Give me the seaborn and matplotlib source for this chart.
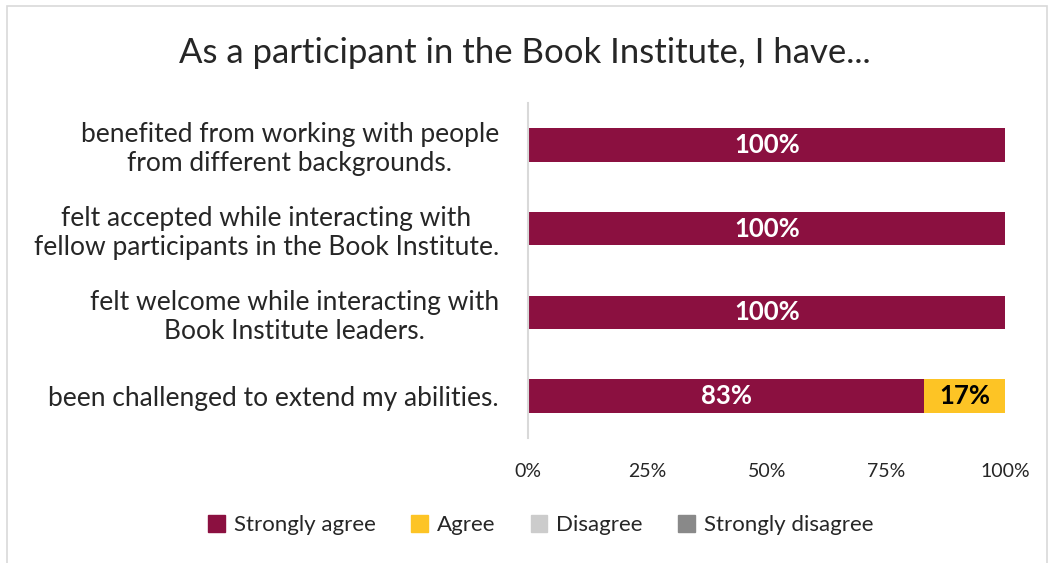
import matplotlib
matplotlib.use("Agg")
import matplotlib.pyplot as plt
import matplotlib.patches as mpatches
import seaborn as sns
import pandas as pd
import numpy as np

# Survey items (top to bottom) and response shares in percent
items = [
    "benefited from working with people\nfrom different backgrounds.",
    "felt accepted while interacting with\nfellow participants in the Book Institute.",
    "felt welcome while interacting with\nBook Institute leaders.",
    "been challenged to extend my abilities.",
]
strongly_agree = [100, 100, 100, 83]
agree = [0, 0, 0, 17]
disagree = [0, 0, 0, 0]
strongly_disagree = [0, 0, 0, 0]

responses = ["Strongly agree", "Agree", "Disagree", "Strongly disagree"]
colors = ["#8B1040", "#FDC425", "#CCCCCC", "#898989"]
label_colors = ["white", "black", "black", "white"]

sns.set_theme(style="white")
plt.rcParams["font.family"] = ["Lato", "DejaVu Sans"]

df = pd.DataFrame({
    "item": items,
    "Strongly agree": strongly_agree,
    "Agree": agree,
    "Disagree": disagree,
    "Strongly disagree": strongly_disagree,
})
cum = df[responses].cumsum(axis=1)

fig = plt.figure(figsize=(10.5, 5.63), dpi=100)
ax = fig.add_axes([0.503, 0.222, 0.4545, 0.595])

# draw cumulative totals back to front so the bars look stacked
for resp, col in reversed(list(zip(responses, colors))):
    sns.barplot(x=cum[resp], y=df["item"], color=col, orient="h",
                width=0.4, ax=ax, saturation=1, linewidth=0)

# segment labels
for i in range(len(items)):
    left = 0
    for resp, lc in zip(responses, label_colors):
        v = df[resp].iloc[i]
        if v > 0:
            ax.text(left + v / 2, i, f"{v}%", ha="center", va="center",
                    color=lc, fontsize=18.5, fontweight="bold")
        left += v

ax.set_xlim(0, 100)
ax.set_ylim(3.5, -0.5)
ax.set_xticks([0, 25, 50, 75, 100])
ax.set_xticklabels(["0%", "25%", "50%", "75%", "100%"], fontsize=14)
ax.set_xlabel("")
ax.set_ylabel("")
ax.tick_params(axis="x", length=0, pad=18)
ax.tick_params(axis="y", length=0, pad=21)
for lab in ax.get_yticklabels():
    lab.set_fontsize(19)
    lab.set_multialignment("center")
for s in ["top", "right", "bottom"]:
    ax.spines[s].set_visible(False)
ax.spines["left"].set_color("#D9D9D9")
ax.spines["left"].set_linewidth(1.5)

fig.suptitle("As a participant in the Book Institute, I have...",
             fontsize=25, y=0.935)

handles = [mpatches.Patch(color=c, label=r) for r, c in zip(responses, colors)]
fig.legend(handles=handles, loc="center", bbox_to_anchor=(0.515, 0.067),
           ncol=4, frameon=False, fontsize=16, handlelength=0.75,
           handleheight=0.75, handletextpad=0.4, columnspacing=1.6)

# light chart-area border
fig.patches.append(mpatches.Rectangle((0.007, -0.01), 0.99, 1.0,
                                      transform=fig.transFigure, fill=False,
                                      edgecolor="#D9D9D9", linewidth=1.2))

fig.savefig("out.png", dpi=100)
